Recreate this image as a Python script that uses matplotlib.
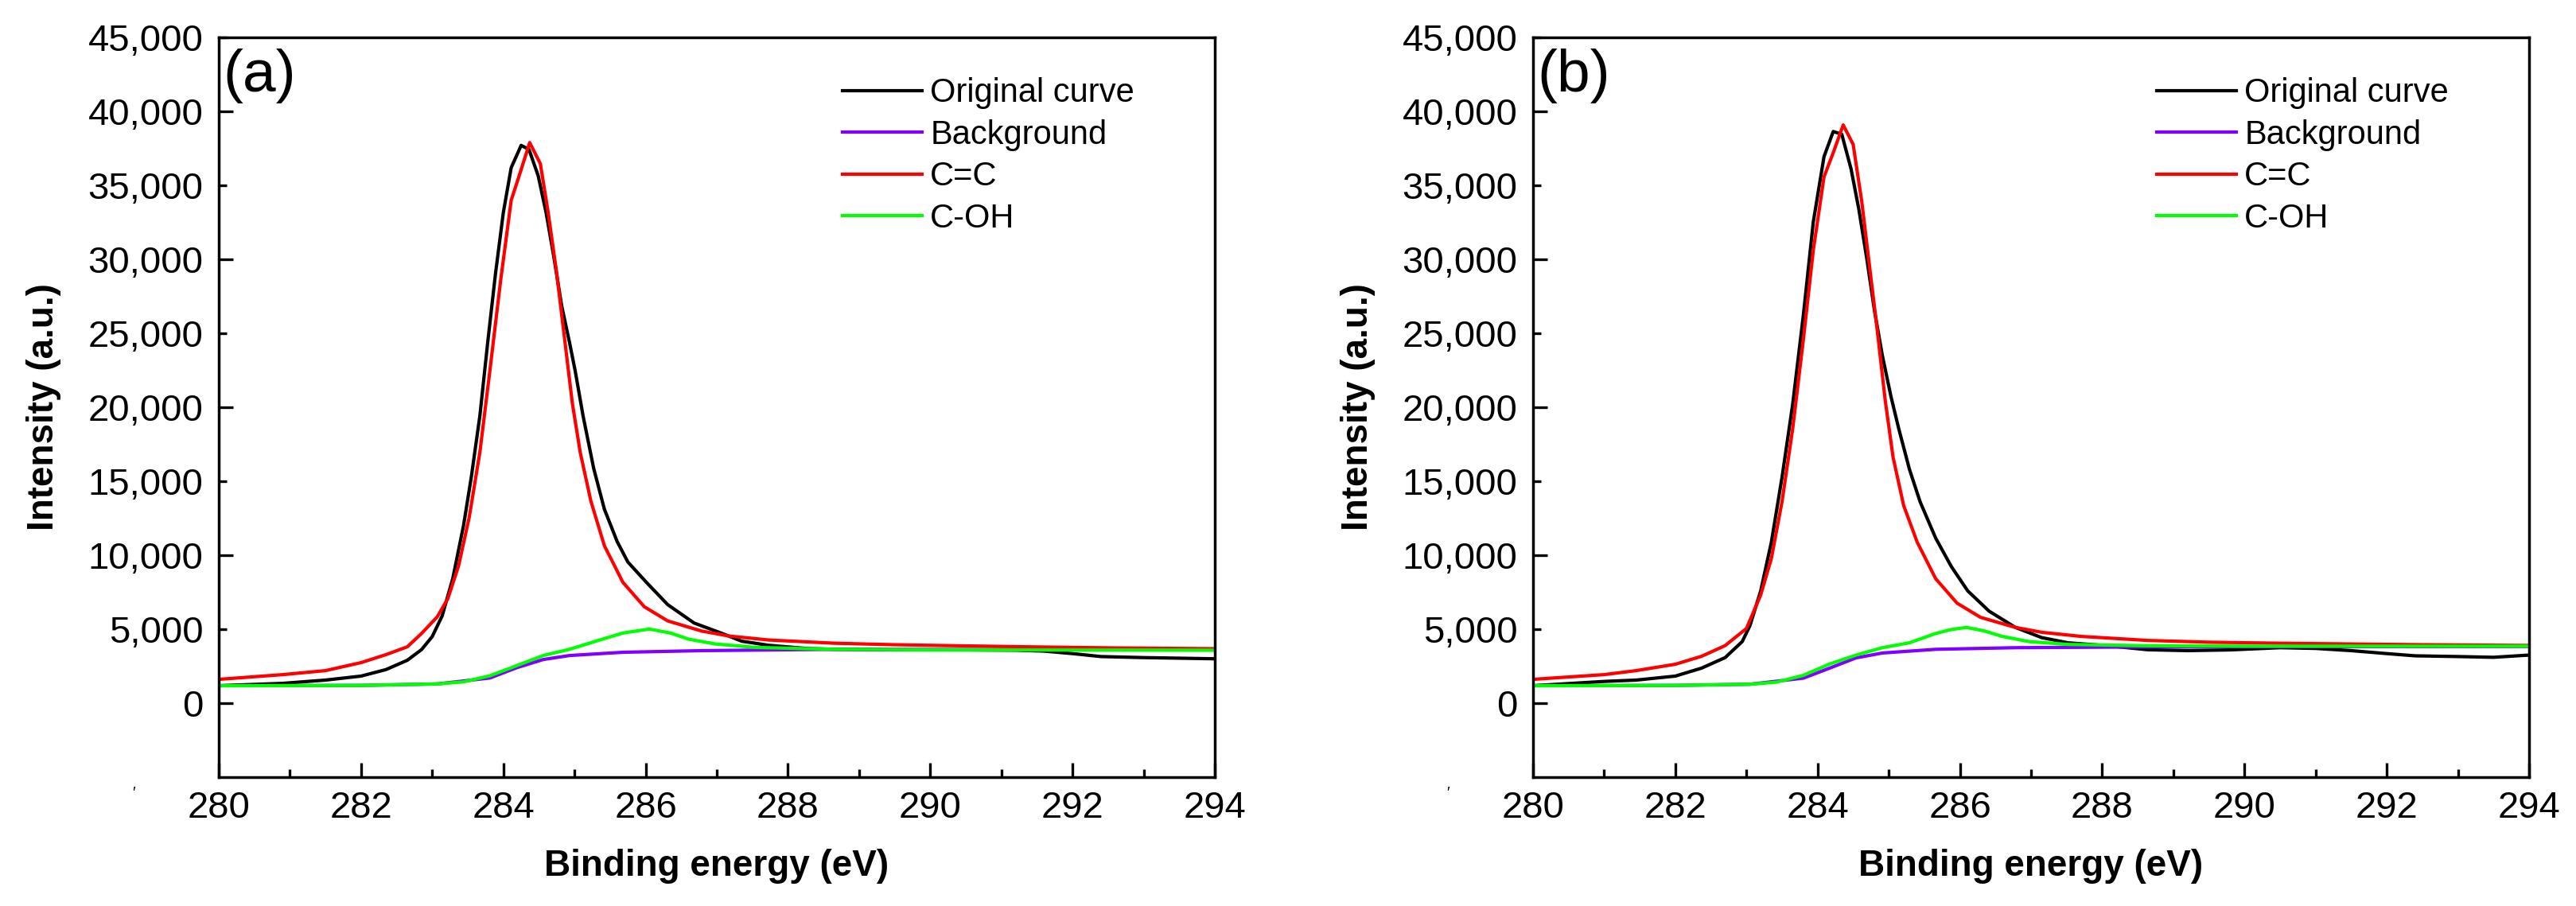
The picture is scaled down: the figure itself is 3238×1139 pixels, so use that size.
import matplotlib
matplotlib.use("Agg")
import matplotlib.pyplot as plt
from matplotlib.ticker import MultipleLocator, FuncFormatter

plt.rcParams['font.family'] = ['Liberation Sans', 'DejaVu Sans']

# ---------------- data (panel a) ----------------
a_orig_E = [280.0, 280.9, 281.5, 282.0, 282.35, 282.65, 282.85, 283.0, 283.14, 283.29, 283.44, 283.55, 283.67,
            283.78, 283.89, 284.0, 284.11, 284.25, 284.36, 284.49, 284.6, 284.71, 284.82, 284.93, 285.01, 285.12,
            285.27, 285.42, 285.6, 285.75, 286.01, 286.31, 286.68, 287.06, 287.35, 287.73, 288.28, 288.66, 289.5,
            290.5, 291.2, 291.6, 292.0, 292.4, 293.0, 294.0]
a_orig_I = [1180, 1340, 1560, 1830, 2270, 2900, 3620, 4500, 5900, 8450, 12000, 15300, 19430,
            24380, 29050, 33170, 36190, 37700, 37430, 35640, 33170, 30150, 26850, 24380, 22450, 19430,
            15860, 13110, 10920, 9540, 8170, 6660, 5420, 4740, 4190, 3910, 3690, 3640, 3600,
            3600, 3580, 3520, 3350, 3150, 3080, 3000]

a_bg_E = [280.0, 282.0, 283.07, 283.81, 284.19, 284.56, 284.93, 285.68, 286.79, 288.66, 294.0]
a_bg_I = [1180, 1200, 1300, 1700, 2400, 2950, 3220, 3440, 3550, 3640, 3600]

a_cc_E = [280.0, 280.9, 281.5, 282.0, 282.35, 282.65, 282.85, 283.07, 283.22, 283.37, 283.52, 283.67, 283.81,
          283.96, 284.11, 284.24, 284.37, 284.52, 284.63, 284.75, 284.86, 284.97, 285.08, 285.23, 285.42,
          285.68, 285.98, 286.31, 286.79, 287.17, 287.73, 288.66, 289.5, 290.5, 291.5, 292.5, 294.0]
a_cc_I = [1610, 1930, 2200, 2740, 3280, 3810, 4710, 5830, 7070, 9270, 12560, 16960, 22450,
          28500, 33990, 35910, 37890, 36460, 33170, 29050, 24650, 20260, 16960, 13660, 10640,
          8170, 6520, 5560, 4870, 4540, 4270, 4050, 3950, 3870, 3800, 3740, 3680]

a_coh_E = [280.0, 282.0, 283.07, 283.44, 283.81, 284.19, 284.56, 284.93, 285.3, 285.68, 286.05, 286.35,
           286.61, 286.98, 287.54, 288.66, 290.0, 294.0]
a_coh_I = [1180, 1200, 1300, 1440, 1850, 2540, 3220, 3640, 4190, 4740, 5010, 4740,
           4320, 4000, 3770, 3640, 3600, 3580]

# ---------------- data (panel b) ----------------
b_orig_E = [280.0, 281.0, 281.45, 282.0, 282.37, 282.7, 282.94, 283.05, 283.2, 283.35, 283.5, 283.65, 283.8,
            283.94, 284.09, 284.22, 284.34, 284.47, 284.58, 284.69, 284.8, 284.91, 285.03, 285.14, 285.29,
            285.44, 285.66, 285.88, 286.11, 286.41, 286.78, 287.15, 287.52, 288.08, 288.64, 289.2, 289.8,
            290.5, 291.0, 291.5, 292.0, 292.4, 293.0, 293.5, 294.0]
b_orig_I = [1180, 1470, 1560, 1830, 2370, 3080, 4160, 5250, 7590, 10880, 15270, 20210, 26240,
            32550, 36940, 38640, 38450, 36110, 33370, 30080, 26510, 23500, 20750, 18560, 15820,
            13620, 11150, 9230, 7590, 6220, 5120, 4430, 4080, 3880, 3610, 3550, 3600,
            3750, 3700, 3550, 3350, 3200, 3150, 3100, 3250]

b_bg_E = [280.0, 282.0, 283.05, 283.8, 284.17, 284.54, 284.91, 285.66, 286.78, 288.64, 294.0]
b_bg_I = [1180, 1200, 1280, 1690, 2370, 3060, 3390, 3640, 3750, 3800, 3830]

b_cc_E = [280.0, 281.0, 281.45, 282.0, 282.37, 282.7, 283.0, 283.2, 283.35, 283.5, 283.65, 283.8, 283.94,
          284.09, 284.22, 284.36, 284.5, 284.62, 284.73, 284.84, 284.95, 285.06, 285.21, 285.4, 285.66,
          285.96, 286.29, 286.78, 287.15, 287.71, 288.64, 289.5, 290.5, 291.5, 292.5, 294.0]
b_cc_I = [1610, 1930, 2200, 2630, 3170, 3890, 5050, 7310, 9780, 13620, 18560, 24590, 30630,
          35570, 37210, 39080, 37760, 33920, 29530, 25140, 20480, 16640, 13350, 10880, 8410,
          6760, 5800, 5120, 4790, 4510, 4240, 4120, 4050, 4000, 3950, 3900]

b_coh_E = [280.0, 282.0, 283.05, 283.42, 283.8, 284.17, 284.54, 284.91, 285.29, 285.66, 285.88, 286.09,
           286.33, 286.59, 286.97, 287.52, 288.64, 290.0, 294.0]
b_coh_I = [1180, 1200, 1280, 1420, 1880, 2650, 3250, 3750, 4080, 4710, 4980, 5120,
           4900, 4520, 4160, 3970, 3880, 3850, 3850]

series_labels = ["Original curve", "Background", "C=C", "C-OH"]
series_colors = ["#000000", "#8000FF", "#FF0000", "#00FF00"]
panel_labels = ["(a)", "(b)"]
x_label = "Binding energy (eV)"
y_label = "Intensity (a.u.)"

panels = [
    [(a_orig_E, a_orig_I), (a_bg_E, a_bg_I), (a_cc_E, a_cc_I), (a_coh_E, a_coh_I)],
    [(b_orig_E, b_orig_I), (b_bg_E, b_bg_I), (b_cc_E, b_cc_I), (b_coh_E, b_coh_I)],
]

W, H = 3238, 1139
fig = plt.figure(figsize=(W / 100, H / 100), dpi=100)

ax_lefts = [275, 1927]
ax_w = 1252
ax_top, ax_bot = 47, 977

fmt = FuncFormatter(lambda v, p: f"{v:,.0f}")

for k, (left, data) in enumerate(zip(ax_lefts, panels)):
    ax = fig.add_axes([left / W, (H - ax_bot) / H, ax_w / W, (ax_bot - ax_top) / H])
    for (E, I), lab, col in zip(data, series_labels, series_colors):
        ax.plot(E, I, color=col, lw=3.0, label=lab, solid_joinstyle='round')
    ax.set_xlim(280, 294)
    ax.set_ylim(-5000, 45000)
    ax.xaxis.set_major_locator(MultipleLocator(2))
    ax.xaxis.set_minor_locator(MultipleLocator(1))
    ax.set_yticks([0, 10000, 20000, 30000, 40000])
    ax.set_yticks([5000, 15000, 25000, 35000, 45000], minor=True)
    ax.yaxis.set_major_formatter(fmt)
    ax.yaxis.set_minor_formatter(fmt)
    ax.tick_params(which='both', direction='in', width=2.4, labelsize=34, top=False, right=False)
    ax.tick_params(which='major', length=13)
    ax.tick_params(which='minor', length=7)
    ax.tick_params(axis='x', which='both', pad=12)
    ax.tick_params(axis='y', which='both', pad=14)
    for s in ax.spines.values():
        s.set_linewidth(2.5)
    ax.set_xlabel(x_label, fontsize=33, fontweight='bold', labelpad=21)
    ax.set_ylabel(y_label, fontsize=33, fontweight='bold', labelpad=24)
    ax.text(0.004, 0.985, panel_labels[k], transform=ax.transAxes, fontsize=54,
            ha='left', va='top')
    ax.legend(loc='upper left', bbox_to_anchor=(0.626, 0.946), frameon=False, fontsize=30,
              handlelength=2.4, handletextpad=0.25, labelspacing=0.3, borderpad=0, borderaxespad=0)
    fig.text((left - 107) / W, 1 - 997 / H, "\u2032", fontsize=14, ha='center', va='center')

fig.savefig("out.png", dpi=100)
